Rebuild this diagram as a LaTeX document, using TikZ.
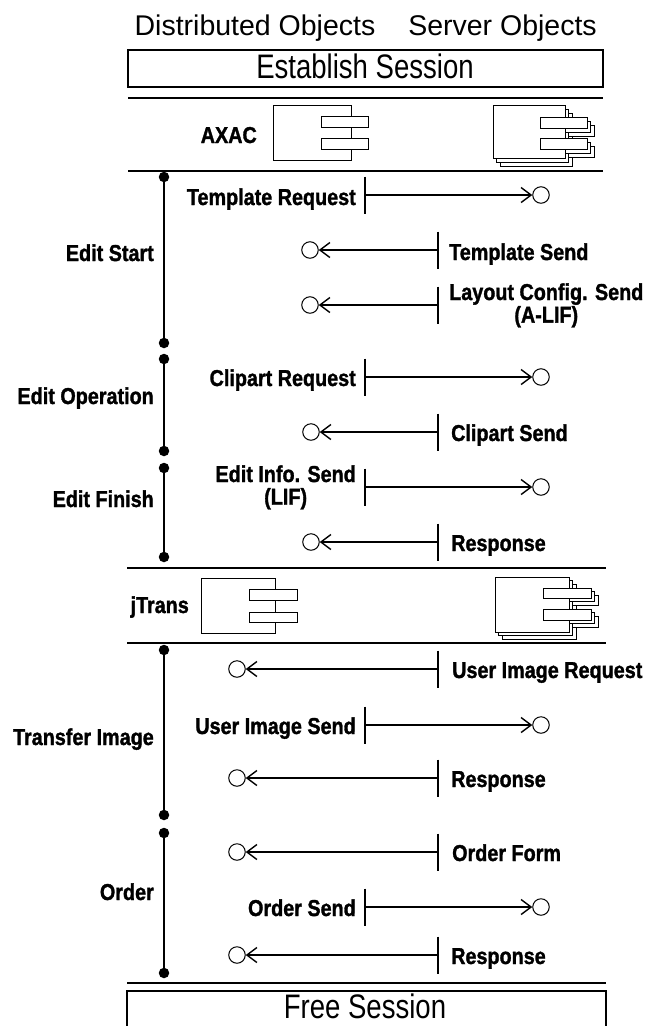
\documentclass[tikz,border=0pt]{standalone}
\usepackage{fontspec}
\usepackage{graphicx}
\setmainfont{Liberation Sans}
\newfontfamily\heavyfont{Liberation Sans Bold}[FakeBold=1.5]
\usetikzlibrary{arrows.meta}
\newcommand\bl[1]{\scalebox{0.86}[1]{#1}}
\newcommand\blt[1]{\scalebox{0.86}[1]{\def\arraystretch{1}\begin{tabular}{@{}c@{}}#1\end{tabular}}}
\newcommand\sesstxt[1]{\scalebox{0.81}[1]{#1}}
\begin{document}
\begin{tikzpicture}[x=1pt,y=-1pt,
  sect/.style={line width=2.4pt},
  sbox/.style={line width=2pt},
  msg/.style={line width=1.4pt,-{Straight Barb[length=10pt,width=15pt]}},
  tickl/.style={line width=1.6pt},
  endc/.style={circle,draw,line width=1pt,minimum size=16.5pt,inner sep=0pt},
  dotn/.style={circle,fill,inner sep=0pt,minimum size=10.5pt},
  tline/.style={line width=2pt},
  lbl/.style={font=\heavyfont\fontsize{23}{20}\selectfont,inner sep=0pt},
  comp/.style={line width=0.8pt,fill=white},
  hdr/.style={font=\fontsize{28.5}{30}\selectfont,inner sep=0pt},
  sess/.style={font=\fontsize{34}{36}\selectfont,inner sep=0pt}]
\useasboundingbox (0,0) rectangle (648,1026);

% headers
\node[hdr,anchor=base] (hd) at (255,35) {Distributed Objects};
\node[hdr,anchor=base] (hs) at (502.5,35) {Server Objects};

% establish session
\draw[sbox] (128,50) rectangle (603,87);
\node[sess,anchor=base] (es) at (365,78) {\sesstxt{Establish Session}};
\draw[sect] (128,98) -- (603,98);
\draw[sect] (128,171) -- (603,171);

% AXAC component
\node[lbl,anchor=base east] (axac) at (257,143) {\bl{AXAC}};
\draw[comp] (273,105) rectangle (351,160);
\draw[comp] (321,116) rectangle (368,127);
\draw[comp] (321,138) rectangle (368,149);
% server component (top)
\foreach \k in {2,1,0}{
  \begin{scope}[shift={(3.5*\k,4*\k)}]
    \draw[comp] (493,105) rectangle (565,158);
    \draw[comp] (540,117) rectangle (587,128);
    \draw[comp] (540,138) rectangle (587,149);
  \end{scope}}

% timeline phases
\node[dotn] (d1a) at (164,177) {};
\node[dotn] (d1b) at (164,343) {};
\node[dotn] (d2a) at (164,359) {};
\node[dotn] (d2b) at (164,451) {};
\node[dotn] (d3a) at (164,468) {};
\node[dotn] (d3b) at (164,557) {};
\node[dotn] (d4a) at (164,650) {};
\node[dotn] (d4b) at (164,815) {};
\node[dotn] (d5a) at (164,833) {};
\node[dotn] (d5b) at (164,973) {};
\draw[tline] (d1a) -- (d1b);
\draw[tline] (d2a) -- (d2b);
\draw[tline] (d3a) -- (d3b);
\draw[tline] (d4a) -- (d4b);
\draw[tline] (d5a) -- (d5b);
\node[lbl,anchor=base east] (p1) at (154,261) {\bl{Edit Start}};
\node[lbl,anchor=base east] (p2) at (154,404) {\bl{Edit Operation}};
\node[lbl,anchor=base east] (p3) at (154,507) {\bl{Edit Finish}};
\node[lbl,anchor=base east] (p4) at (154,745) {\bl{Transfer Image}};
\node[lbl,anchor=base east] (p5) at (154,900) {\bl{Order}};

% ---- messages: right-going
\coordinate (tR1) at (365,195);
\node[endc] (cR1) at (541,195) {};
\draw[tickl] (tR1) ++(0,-18.5) -- ++(0,37);
\draw[msg] (tR1) -- (cR1);
\node[lbl,anchor=base east] (lR1) at (356,205) {\bl{Template Request}};

\coordinate (tR2) at (365,377);
\node[endc] (cR2) at (541,377) {};
\draw[tickl] (tR2) ++(0,-18.5) -- ++(0,37);
\draw[msg] (tR2) -- (cR2);
\node[lbl,anchor=base east] (lR2) at (356,386) {\bl{Clipart Request}};

\coordinate (tR3) at (365,487);
\node[endc] (cR3) at (541,487) {};
\draw[tickl] (tR3) ++(0,-18.5) -- ++(0,37);
\draw[msg] (tR3) -- (cR3);
\node[lbl,anchor=east] (lR3) at (356,488) {\blt{Edit Info. Send\\(LIF)}};

\coordinate (tR4) at (365,725);
\node[endc] (cR4) at (541,725) {};
\draw[tickl] (tR4) ++(0,-18.5) -- ++(0,37);
\draw[msg] (tR4) -- (cR4);
\node[lbl,anchor=base east] (lR4) at (356,734) {\bl{User Image Send}};

\coordinate (tR5) at (365,907);
\node[endc] (cR5) at (541,907) {};
\draw[tickl] (tR5) ++(0,-18.5) -- ++(0,37);
\draw[msg] (tR5) -- (cR5);
\node[lbl,anchor=base east] (lR5) at (356,916) {\bl{Order Send}};

% ---- messages: left-going
\coordinate (tL1) at (438,250);
\node[endc] (cL1) at (310,250) {};
\draw[tickl] (tL1) ++(0,-18.5) -- ++(0,37);
\draw[msg] (tL1) -- (cL1);
\node[lbl,anchor=base west] (lL1) at (449,260) {\bl{Template Send}};

\coordinate (tL2) at (438,305);
\node[endc] (cL2) at (310,305) {};
\draw[tickl] (tL2) ++(0,-18.5) -- ++(0,37);
\draw[msg] (tL2) -- (cL2);
\node[lbl,anchor=west] (lL2) at (449,306) {\blt{Layout Config. Send\\(A-LIF)}};

\coordinate (tL3) at (438,432);
\node[endc] (cL3) at (311,432) {};
\draw[tickl] (tL3) ++(0,-18.5) -- ++(0,37);
\draw[msg] (tL3) -- (cL3);
\node[lbl,anchor=base west] (lL3) at (451,441) {\bl{Clipart Send}};

\coordinate (tL4) at (438,542);
\node[endc] (cL4) at (311,542) {};
\draw[tickl] (tL4) ++(0,-18.5) -- ++(0,37);
\draw[msg] (tL4) -- (cL4);
\node[lbl,anchor=base west] (lL4) at (451,551) {\bl{Response}};

% jTrans section
\draw[sect] (127,568) -- (606,568);
\node[lbl,anchor=base east] (jt) at (189,613) {\bl{jTrans}};
\draw[comp] (201.5,578) rectangle (275,633);
\draw[comp] (249,589) rectangle (297,600);
\draw[comp] (249,612) rectangle (297,622);
\foreach \k in {2,1,0}{
  \begin{scope}[shift={(3.5*\k,3.5*\k)}]
    \draw[comp] (495,577) rectangle (569,632);
    \draw[comp] (543,588) rectangle (591,598);
    \draw[comp] (543,609) rectangle (591,620);
  \end{scope}}
\draw[sect] (127,643) -- (606,643);

\coordinate (tL5) at (438,669);
\node[endc] (cL5) at (237,669) {};
\draw[tickl] (tL5) ++(0,-18.5) -- ++(0,37);
\draw[msg] (tL5) -- (cL5);
\node[lbl,anchor=base west] (lL5) at (452,678) {\bl{User Image Request}};

\coordinate (tL6) at (438,778);
\node[endc] (cL6) at (237,778) {};
\draw[tickl] (tL6) ++(0,-18.5) -- ++(0,37);
\draw[msg] (tL6) -- (cL6);
\node[lbl,anchor=base west] (lL6) at (451,787) {\bl{Response}};

\coordinate (tL7) at (438,852);
\node[endc] (cL7) at (237,852) {};
\draw[tickl] (tL7) ++(0,-18.5) -- ++(0,37);
\draw[msg] (tL7) -- (cL7);
\node[lbl,anchor=base west] (lL7) at (452,861) {\bl{Order Form}};

\coordinate (tL8) at (438,955);
\node[endc] (cL8) at (237,955) {};
\draw[tickl] (tL8) ++(0,-18.5) -- ++(0,37);
\draw[msg] (tL8) -- (cL8);
\node[lbl,anchor=base west] (lL8) at (451,964) {\bl{Response}};

% free session
\draw[sect] (127,983) -- (606,983);
\draw[sbox] (127,1027) -- (127,991) -- (606,991) -- (606,1027);
\node[sess,anchor=base] (fs) at (365,1018) {\sesstxt{Free Session}};
\end{tikzpicture}
\end{document}
